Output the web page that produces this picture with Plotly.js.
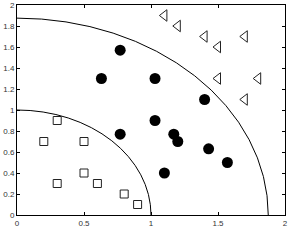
<!DOCTYPE html>
<html><head><meta charset="utf-8">
<script src="https://cdn.plot.ly/plotly-3.0.1.min.js"></script>
<style>html,body{margin:0;padding:0;background:#fff}#c{width:294px;height:240px}</style>
</head><body><div id="c"></div>
<script>
const sqX = [0.3, 0.2, 0.5, 0.5, 0.3, 0.6, 0.8, 0.9];
const sqY = [0.9, 0.7, 0.7, 0.4, 0.3, 0.3, 0.2, 0.1];
const ciX = [0.77, 0.63, 1.03, 0.77, 1.03, 1.17, 1.2, 1.4, 1.43, 1.1, 1.57];
const ciY = [1.57, 1.3, 1.3, 0.77, 0.9, 0.77, 0.7, 1.1, 0.63, 0.4, 0.5];
const trX = [1.1, 1.2, 1.4, 1.5, 1.7, 1.5, 1.8, 1.7];
const trY = [1.9, 1.8, 1.7, 1.6, 1.7, 1.3, 1.3, 1.1];
const radii = [1, 1.875];
const xTicks = [0, 0.5, 1, 1.5, 2];
const yTicks = [0, 0.2, 0.4, 0.6, 0.8, 1, 1.2, 1.4, 1.6, 1.8, 2];

const traces = [
  {x: sqX, y: sqY, mode: 'markers', type: 'scatter',
   marker: {symbol: 'square-open', size: 8, color: '#222', line: {width: 1}}},
  {x: ciX, y: ciY, mode: 'markers', type: 'scatter',
   marker: {symbol: 'circle', size: 11, color: '#000'}},
  {x: trX, y: trY, mode: 'markers', type: 'scatter',
   marker: {symbol: 'triangle-left-open', size: 10, color: '#222', line: {width: 1}}}
];
const shapes = radii.map(r => ({type: 'circle', xref: 'x', yref: 'y',
  x0: -r, y0: -r, x1: r, y1: r, line: {color: '#000', width: 1}}));
const ax = {showgrid: false, zeroline: false, ticks: 'inside', ticklen: 3, tickwidth: 1,
  tickcolor: '#000', showline: true, linecolor: '#000', linewidth: 1, mirror: 'ticks',
  tickfont: {family: 'Liberation Sans, Arial, sans-serif', size: 8, color: '#333'}};
const layout = {
  width: 294, height: 240, showlegend: false,
  margin: {l: 17, r: 9, t: 5, b: 25},
  paper_bgcolor: '#fff', plot_bgcolor: '#fff',
  xaxis: Object.assign({}, ax, {range: [0, 2], tickvals: xTicks, ticktext: xTicks.map(String)}),
  yaxis: Object.assign({}, ax, {range: [0, 2], tickvals: yTicks, ticktext: yTicks.map(String)}),
  shapes: shapes
};
Plotly.newPlot('c', traces, layout, {staticPlot: true});
</script></body></html>
